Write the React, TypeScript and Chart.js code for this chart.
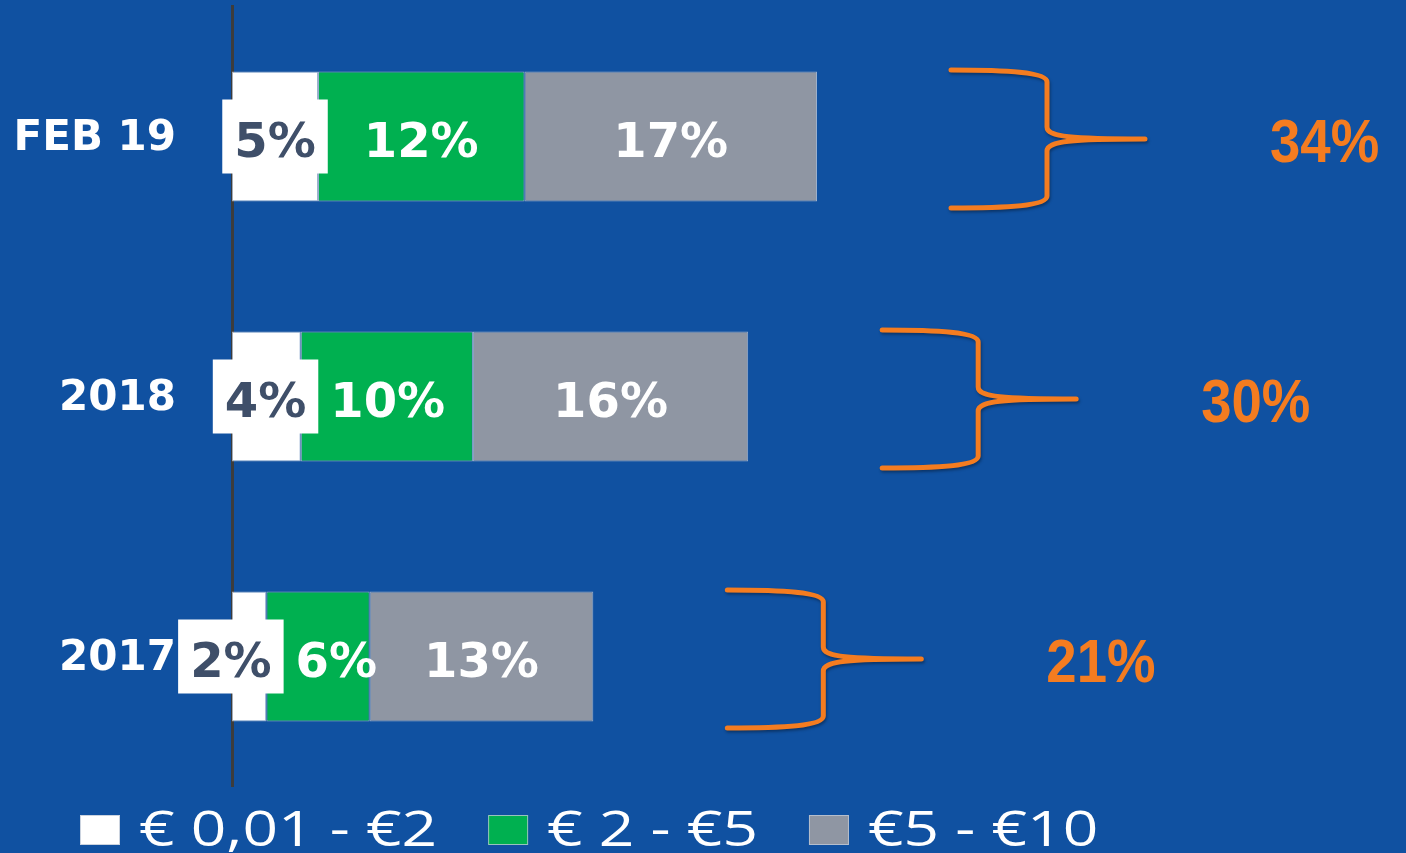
import React, { useEffect, useRef } from "react";
import { Chart, registerables } from "chart.js";

Chart.register(...registerables);

// ---- data ----
const categories = ["FEB 19", "2018", "2017"];
const seriesLabels = ["€ 0,01 - €2", "€ 2 - €5", "€5 - €10"];
const lowValues = [5, 4, 2];
const midValues = [12, 10, 6];
const highValues = [17, 16, 13];
const totalValues = [34, 30, 21];

// ---- styles ----
const BG = "#1051A1";
const WHITE = "#FFFFFF";
const GREEN = "#00B050";
const GRAY = "#8F96A3";
const DARK = "#3F4F69";
const ORANGE = "#F47C20";
const AXIS = "#3C3C3C";

const bgPlugin = {
  id: "bgFill",
  beforeDraw(chart: any) {
    const { ctx, width, height } = chart;
    ctx.save();
    ctx.fillStyle = BG;
    ctx.fillRect(0, 0, width, height);
    ctx.restore();
  },
};

const segLabelPlugin = {
  id: "segLabels",
  afterDatasetsDraw(chart: any) {
    const ctx = chart.ctx;
    const n = chart.data.labels.length;
    const PADX = 12;
    const GAP = 12;
    ctx.save();
    ctx.font = 'bold 48px "DejaVu Sans"';
    ctx.textAlign = "center";
    ctx.textBaseline = "alphabetic";
    for (let i = 0; i < n; i++) {
      const items = chart.data.datasets.map((ds: any, d: number) => {
        const el = chart.getDatasetMeta(d).data[i];
        const p = el.getProps(["x", "base", "y"], true);
        const text = ds.data[i] + "%";
        const w = ctx.measureText(text).width;
        return { cx: (p.x + p.base) / 2, y: p.y, text, w, d };
      });
      const a = items[0];
      const b = items[1];
      const overlap = a.cx + a.w / 2 + PADX + GAP - (b.cx - b.w / 2);
      if (overlap > 0) {
        a.cx -= overlap / 2;
        b.cx += overlap / 2;
      }
      items.forEach((it: any) => {
        if (it.d === 0) {
          ctx.fillStyle = WHITE;
          ctx.fillRect(it.cx - it.w / 2 - PADX, it.y - 37, it.w + 2 * PADX, 74);
          ctx.fillStyle = DARK;
        } else {
          ctx.fillStyle = WHITE;
        }
        ctx.fillText(it.text, it.cx, it.y + 20);
      });
    }
    ctx.restore();
  },
};

const bracePlugin = {
  id: "braces",
  afterDraw(chart: any) {
    const ctx = chart.ctx;
    const xs = chart.scales.x;
    const meta = chart.getDatasetMeta(0);
    ctx.save();
    for (let i = 0; i < totalValues.length; i++) {
      const endX = xs.getPixelForValue(totalValues[i]);
      const cy = meta.data[i].y + 2.5;
      const x0 = endX + 134;
      const spine = x0 + 96;
      const tip = spine + 98;
      const top = cy - 69;
      const bottom = cy + 69;
      ctx.shadowColor = "rgba(0,0,0,0.35)";
      ctx.shadowBlur = 3;
      ctx.shadowOffsetX = 1;
      ctx.shadowOffsetY = 2;
      ctx.strokeStyle = ORANGE;
      ctx.lineWidth = 5;
      ctx.lineCap = "round";
      ctx.lineJoin = "round";
      ctx.beginPath();
      ctx.moveTo(x0, top);
      ctx.bezierCurveTo(x0 + 55, top, spine, top + 2, spine, top + 12);
      ctx.lineTo(spine, cy - 12);
      ctx.bezierCurveTo(spine, cy - 2, spine + 25, cy, tip, cy);
      ctx.moveTo(tip, cy);
      ctx.bezierCurveTo(spine + 25, cy, spine, cy + 2, spine, cy + 12);
      ctx.lineTo(spine, bottom - 12);
      ctx.bezierCurveTo(spine, bottom - 2, x0 + 55, bottom, x0, bottom);
      ctx.stroke();
      ctx.shadowColor = "transparent";
      ctx.fillStyle = ORANGE;
      ctx.font = 'bold 62px "Liberation Sans", sans-serif';
      ctx.textAlign = "left";
      ctx.textBaseline = "alphabetic";
      ctx.save();
      ctx.translate(tip + 125, cy + 23);
      ctx.scale(0.88, 1);
      ctx.fillText(totalValues[i] + "%", 0, 0);
      ctx.restore();
    }
    ctx.restore();
  },
};

const legendPlugin = {
  id: "bottomLegend",
  afterDraw(chart: any) {
    const ctx = chart.ctx;
    const SX = 1.27;
    const boxW = 40;
    const boxH = 30;
    const boxTop = chart.height - 38;
    const baseline = chart.height - 7;
    let x = 80;
    ctx.save();
    ctx.font = '49px "Open Sans"';
    ctx.textAlign = "left";
    ctx.textBaseline = "alphabetic";
    chart.data.datasets.forEach((ds: any) => {
      ctx.fillStyle = ds.backgroundColor;
      ctx.fillRect(x, boxTop, boxW, boxH);
      ctx.strokeStyle = "rgba(190,200,215,0.8)";
      ctx.lineWidth = 1;
      ctx.strokeRect(x + 0.5, boxTop + 0.5, boxW - 1, boxH - 1);
      x += boxW + 19;
      const w = ctx.measureText(ds.label).width * SX;
      ctx.save();
      ctx.translate(x, baseline);
      ctx.scale(SX, 1);
      ctx.fillStyle = WHITE;
      ctx.fillText(ds.label, 0, 0);
      ctx.restore();
      x += w + 51;
    });
    ctx.restore();
  },
};

export default function App() {
  const canvasRef = useRef<HTMLCanvasElement | null>(null);

  useEffect(() => {
    document.body.style.margin = "0";
    document.body.style.overflow = "hidden";
    document.body.style.background = BG;
    const canvas = canvasRef.current;
    if (!canvas) return;
    const border = "rgba(190,200,215,0.8)";
    const chart = new Chart(canvas, {
      type: "bar",
      data: {
        labels: categories,
        datasets: [
          {
            label: seriesLabels[0],
            data: lowValues,
            backgroundColor: WHITE,
            borderColor: border,
            borderWidth: 1,
            borderSkipped: false,
          },
          {
            label: seriesLabels[1],
            data: midValues,
            backgroundColor: GREEN,
            borderColor: border,
            borderWidth: 1,
            borderSkipped: false,
          },
          {
            label: seriesLabels[2],
            data: highValues,
            backgroundColor: GRAY,
            borderColor: border,
            borderWidth: 1,
            borderSkipped: false,
          },
        ],
      },
      options: {
        indexAxis: "y",
        animation: false,
        responsive: true,
        maintainAspectRatio: false,
        layout: { padding: { top: 6.5, right: 4, bottom: 66.5, left: 0 } },
        datasets: {
          bar: { categoryPercentage: 1, barPercentage: 0.5 },
        },
        plugins: {
          legend: { display: false },
          tooltip: { enabled: false },
        },
        scales: {
          x: {
            display: false,
            stacked: true,
            min: 0,
            max: 68,
          },
          y: {
            stacked: true,
            grid: { display: false, drawTicks: false },
            border: { display: true, color: AXIS, width: 3 },
            ticks: {
              color: WHITE,
              padding: 56,
              labelOffset: 3,
              font: { family: '"DejaVu Sans"', size: 42, weight: "bold" },
            },
            afterFit(scale: any) {
              scale.width = 232;
              scale.paddingTop = 0;
              scale.paddingBottom = 0;
            },
          },
        },
      },
      plugins: [bgPlugin, segLabelPlugin, bracePlugin, legendPlugin],
    } as any);
    return () => chart.destroy();
  }, []);

  return (
    <div style={{ width: 1406, height: 853, position: "relative" }}>
      <canvas ref={canvasRef} />
    </div>
  );
}
